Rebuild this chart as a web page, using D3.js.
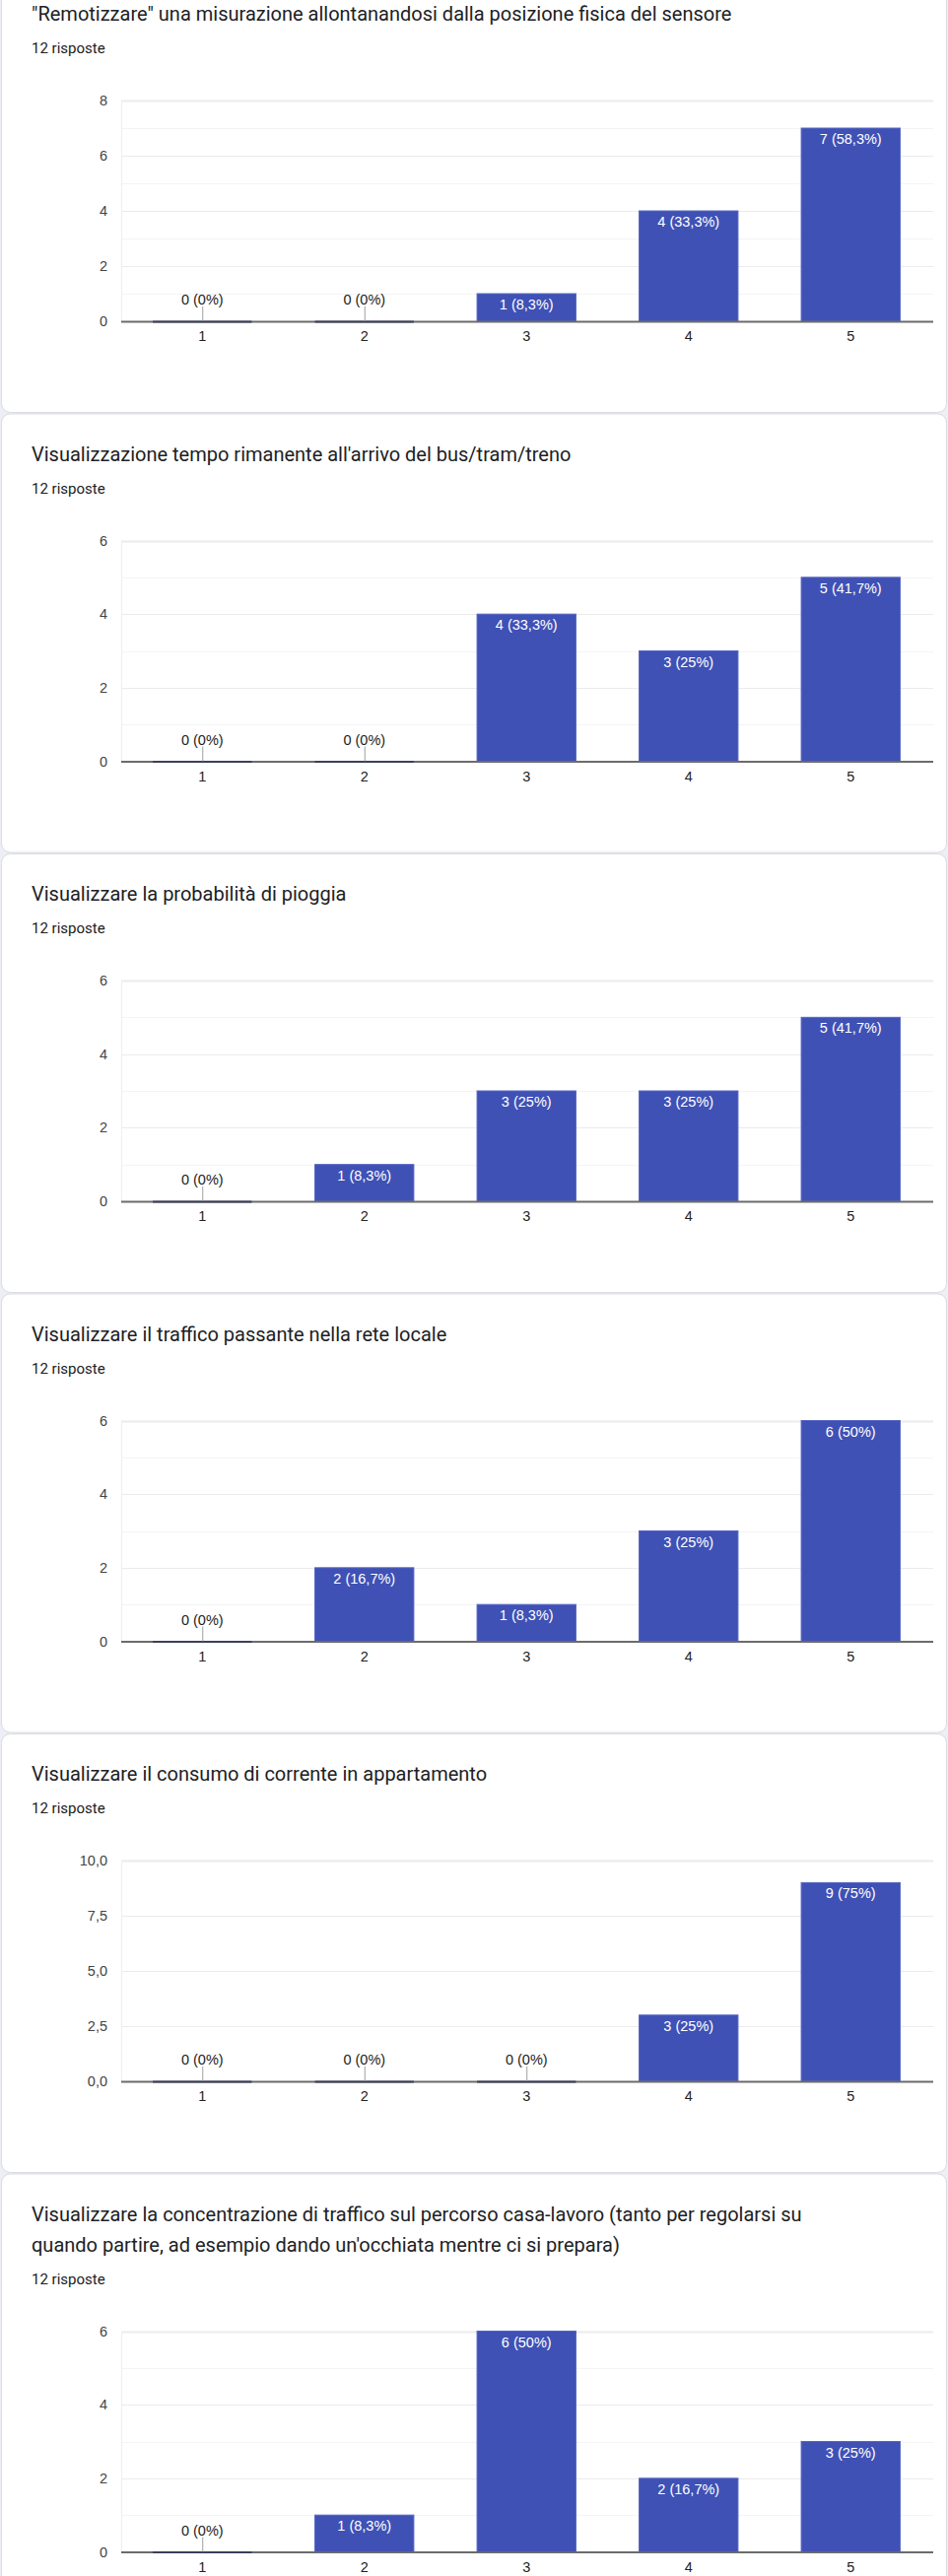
<!DOCTYPE html>
<html>
<head>
<meta charset="utf-8">
<script src="https://cdn.jsdelivr.net/npm/d3@7"></script>
<style>
  html, body { margin: 0; padding: 0; background: #edeef6; }
  svg { display: block; }
</style>
</head>
<body>
<svg id="chart" width="962" height="2614"></svg>
<script>
// titoli delle domande (una riga per elemento)
const titles = [
  ['"Remotizzare" una misurazione allontanandosi dalla posizione fisica del sensore'],
  ["Visualizzazione tempo rimanente all'arrivo del bus/tram/treno"],
  ['Visualizzare la probabilità di pioggia'],
  ['Visualizzare il traffico passante nella rete locale'],
  ['Visualizzare il consumo di corrente in appartamento'],
  ['Visualizzare la concentrazione di traffico sul percorso casa-lavoro (tanto per regolarsi su',
   "quando partire, ad esempio dando un'occhiata mentre ci si prepara)"]
];
const responses = [12, 12, 12, 12, 12, 12];
const categories = ['1', '2', '3', '4', '5'];

// risposte per ogni domanda
const q1 = [0, 0, 1, 4, 7];
const q2 = [0, 0, 4, 3, 5];
const q3 = [0, 1, 3, 3, 5];
const q4 = [0, 2, 1, 3, 6];
const q5 = [0, 0, 0, 3, 9];
const q6 = [0, 1, 6, 2, 3];
const values = [q1, q2, q3, q4, q5, q6];

// asse y
const yMax = [8, 6, 6, 6, 10, 6];
const yStep = [2, 2, 2, 2, 2.5, 2];
const yMinor = [1, 1, 1, 1, null, 1];

const svg = d3.select('#chart');
const W = +svg.attr('width');

const cardTop0 = -27, cardPitch = 446.5, lineH = 31;
const plotLeft = 123, plotRight = 945.5, plotH = 224;

const pct = (v, n) => {
  const p = Math.round(v / n * 1000) / 10;
  return String(p).replace('.', ',') + '%';
};

let extra = 0;
titles.forEach((lines, i) => {
  const top = cardTop0 + i * cardPitch + extra;
  const extraLines = lines.length - 1;
  const cardH = 445 + extraLines * lineH;
  extra += extraLines * lineH;

  const card = svg.append('g');
  card.append('rect')
    .attr('x', 1.5).attr('y', top + 0.5)
    .attr('width', W - 3).attr('height', cardH)
    .attr('rx', 9).attr('ry', 9)
    .attr('fill', '#fff')
    .attr('stroke', '#dadce0');

  // titolo
  card.selectAll('.title')
    .data(lines)
    .enter()
    .append('text')
    .attr('x', 32)
    .attr('y', (d, k) => top + 41 + k * lineH)
    .attr('dy', '0.35em')
    .attr('font-family', 'Roboto, sans-serif')
    .attr('font-size', 20)
    .attr('fill', '#202124')
    .text(d => d);

  const respY = top + 76 + extraLines * lineH;
  card.append('text')
    .attr('x', 32).attr('y', respY).attr('dy', '0.35em')
    .attr('font-family', 'Roboto, sans-serif')
    .attr('font-size', 15)
    .attr('fill', '#202124')
    .text(responses[i] + ' risposte');

  const plotTop = respY + 53;
  const base = plotTop + plotH;

  const x = d3.scaleBand()
    .domain(categories)
    .range([plotLeft, plotRight])
    .paddingInner(0.39)
    .paddingOuter(0.195);
  const y = d3.scaleLinear()
    .domain([0, yMax[i]])
    .range([base, plotTop]);

  const ticks = d3.range(0, yMax[i] + yStep[i] / 2, yStep[i]);
  const fmt = yStep[i] % 1 ? (v => d3.format('.1f')(v).replace('.', ',')) : d3.format('d');

  // griglia secondaria
  if (yMinor[i]) {
    const minor = d3.range(yMinor[i], yMax[i], yStep[i]);
    card.selectAll('.minor')
      .data(minor)
      .enter()
      .append('line')
      .attr('x1', plotLeft).attr('x2', W - 15)
      .attr('y1', d => Math.round(y(d)) + 0.5).attr('y2', d => Math.round(y(d)) + 0.5)
      .attr('stroke', '#f4f4f4');
  }
  // griglia principale
  card.selectAll('.major')
    .data(ticks.slice(1))
    .enter()
    .append('line')
    .attr('x1', plotLeft).attr('x2', W - 15)
    .attr('y1', d => Math.round(y(d)) + 0.5).attr('y2', d => Math.round(y(d)) + 0.5)
    .attr('stroke', '#ebebeb')
    .attr('stroke-width', d => d === yMax[i] ? 2 : 1.2);
  card.append('line')
    .attr('x1', plotLeft + 0.5).attr('x2', plotLeft + 0.5)
    .attr('y1', plotTop).attr('y2', base)
    .attr('stroke', '#eeeeee');

  // etichette asse y
  const yAxis = d3.axisLeft(y).tickValues(ticks).tickFormat(fmt).tickSize(0).tickPadding(14);
  const ga = card.append('g')
    .attr('transform', `translate(${plotLeft},0)`)
    .call(yAxis);
  ga.select('.domain').remove();
  ga.selectAll('text')
    .attr('font-family', 'Arial, "Liberation Sans", sans-serif')
    .attr('font-size', 14.5)
    .attr('fill', '#444');

  // etichette asse x
  const xAxis = d3.axisBottom(x).tickSize(0).tickPadding(10);
  const gx = card.append('g')
    .attr('transform', `translate(0,${base})`)
    .call(xAxis);
  gx.select('.domain').remove();
  gx.selectAll('text')
    .attr('font-family', 'Arial, "Liberation Sans", sans-serif')
    .attr('font-size', 14.5)
    .attr('fill', '#222');

  const data = values[i].map((v, k) => ({ cat: categories[k], v }));

  // barre
  card.selectAll('.bar')
    .data(data.filter(d => d.v > 0))
    .enter()
    .append('rect')
    .attr('x', d => x(d.cat))
    .attr('y', d => y(d.v))
    .attr('width', x.bandwidth())
    .attr('height', d => base - y(d.v))
    .attr('fill', '#3f51b5')
    .attr('stroke', '#5566c2')
    .attr('stroke-width', 1);

  // linea di base
  card.append('line')
    .attr('x1', plotLeft).attr('x2', W - 15)
    .attr('y1', base + 0.5).attr('y2', base + 0.5)
    .attr('stroke', '#6b6b6b')
    .attr('stroke-width', 2);

  // barre a zero
  const zeros = data.filter(d => d.v === 0);
  card.selectAll('.zero')
    .data(zeros)
    .enter()
    .append('rect')
    .attr('x', d => x(d.cat))
    .attr('y', base - 0.5)
    .attr('width', x.bandwidth())
    .attr('height', 2)
    .attr('fill', '#3a3f5c');
  card.selectAll('.leader')
    .data(zeros)
    .enter()
    .append('line')
    .attr('x1', d => x(d.cat) + x.bandwidth() / 2 + 0.5)
    .attr('x2', d => x(d.cat) + x.bandwidth() / 2 + 0.5)
    .attr('y1', base - 15).attr('y2', base)
    .attr('stroke', '#9e9e9e');

  // etichette valori
  card.selectAll('.lbl')
    .data(data)
    .enter()
    .append('text')
    .attr('x', d => x(d.cat) + x.bandwidth() / 2)
    .attr('y', d => d.v > 0 ? y(d.v) + 11 : base - 22)
    .attr('dy', '0.35em')
    .attr('text-anchor', 'middle')
    .attr('font-family', 'Arial, "Liberation Sans", sans-serif')
    .attr('font-size', 14.5)
    .attr('fill', d => d.v > 0 ? '#fff' : '#222')
    .text(d => `${d.v} (${pct(d.v, responses[i])})`);
});
</script>
</body>
</html>
